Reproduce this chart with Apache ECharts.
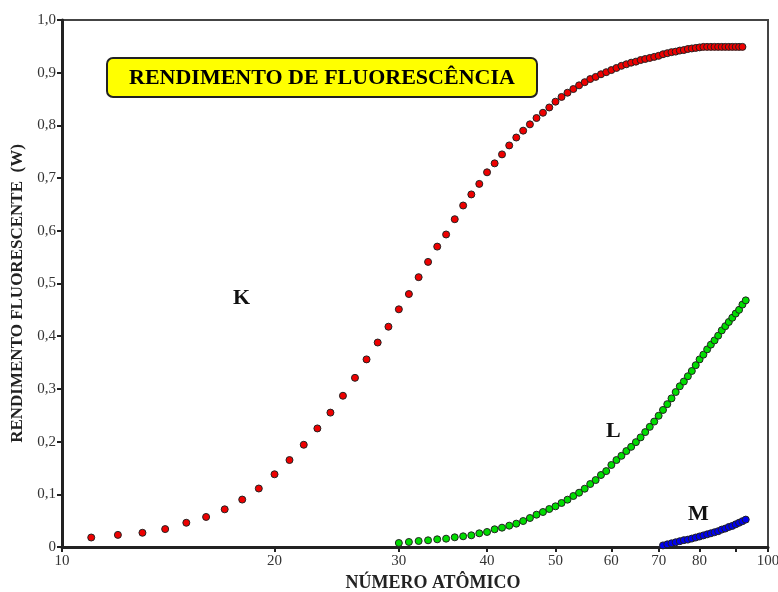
<!DOCTYPE html>
<html>
<head>
<meta charset="utf-8">
<script src="https://cdn.jsdelivr.net/npm/echarts@6/dist/echarts.min.js"></script>
<style>
html,body{margin:0;padding:0;background:#fff;}
#chart{width:778px;height:592px;}
</style>
</head>
<body>
<div id="chart"></div>
<script>
// Atomic numbers and fluorescence yields
var kZ = [11,12,13,14,15,16,17,18,19,20,21,22,23,24,25,26,27,28,29,30,31,32,33,34,35,36,37,38,39,40,41,42,43,44,45,46,47,48,49,50,51,52,53,54,55,56,57,58,59,60,61,62,63,64,65,66,67,68,69,70,71,72,73,74,75,76,77,78,79,80,81,82,83,84,85,86,87,88,89,90,91,92];
var kValues = [0.018,0.023,0.027,0.034,0.046,0.057,0.0715,0.090,0.111,0.138,0.165,0.194,0.225,0.255,0.287,0.321,0.356,0.388,0.418,0.451,0.480,0.512,0.541,0.570,0.593,0.622,0.648,0.669,0.689,0.711,0.728,0.745,0.762,0.777,0.790,0.802,0.814,0.824,0.834,0.845,0.854,0.862,0.869,0.876,0.882,0.888,0.892,0.897,0.901,0.905,0.909,0.913,0.916,0.919,0.921,0.924,0.926,0.928,0.930,0.932,0.935,0.937,0.939,0.940,0.942,0.943,0.945,0.946,0.947,0.948,0.949,0.949,0.949,0.949,0.949,0.949,0.949,0.949,0.949,0.949,0.949,0.949];

var lZ = [30,31,32,33,34,35,36,37,38,39,40,41,42,43,44,45,46,47,48,49,50,51,52,53,54,55,56,57,58,59,60,61,62,63,64,65,66,67,68,69,70,71,72,73,74,75,76,77,78,79,80,81,82,83,84,85,86,87,88,89,90,91,92,93];
var lValues = [0.0076,0.0095,0.0114,0.0127,0.0146,0.0158,0.0184,0.0203,0.0222,0.026,0.0285,0.0336,0.0367,0.0405,0.0443,0.0493,0.055,0.0613,0.0664,0.0721,0.0772,0.0835,0.0898,0.0968,0.103,0.1106,0.1195,0.127,0.1366,0.144,0.1556,0.165,0.173,0.182,0.190,0.199,0.208,0.218,0.228,0.238,0.249,0.260,0.271,0.282,0.294,0.305,0.314,0.324,0.334,0.345,0.356,0.365,0.375,0.384,0.392,0.401,0.411,0.419,0.427,0.435,0.443,0.450,0.460,0.468];

var mZ = [71,72,73,74,75,76,77,78,79,80,81,82,83,84,85,86,87,88,89,90,91,92,93];
var mValues = [0.003,0.005,0.007,0.009,0.011,0.013,0.014,0.016,0.018,0.020,0.022,0.024,0.026,0.028,0.030,0.033,0.035,0.038,0.040,0.043,0.046,0.049,0.052];

var xTicks = [10,20,30,40,50,60,70,80,90,100];
var xTickLabels = ['10','20','30','40','50','60','70','80','','100'];

function pairs(xs, ys){ return xs.map(function(x,i){ return [x, ys[i]]; }); }

var serif = 'Liberation Serif, "Times New Roman", serif';
var chart = echarts.init(document.getElementById('chart'), null, {renderer:'canvas'});
chart.setOption({
  animation:false,
  backgroundColor:'#ffffff',
  title:{
    text:'RENDIMENTO DE FLUORESCÊNCIA',
    left:107, top:58,
    backgroundColor:'#ffff00',
    borderColor:'#222',
    borderWidth:2,
    borderRadius:6,
    padding:[9,22,8,22],
    textStyle:{fontFamily:serif, fontWeight:'bold', fontSize:22, color:'#000'}
  },
  grid:{left:62, right:10, top:20, bottom:45, outerBoundsMode:'none', containLabel:false,
    show:true, borderColor:'#444', borderWidth:2, backgroundColor:'transparent'},
  xAxis:{
    type:'log', logBase:10, min:10, max:100,
    name:'NÚMERO ATÔMICO', nameLocation:'middle', nameGap:25,
    nameTextStyle:{fontFamily:serif, fontWeight:'bold', fontSize:18, color:'#222', padding:[0,0,0,36]},
    axisLine:{show:true, lineStyle:{color:'#222', width:3}},
    axisTick:{show:true, length:5, lineStyle:{color:'#222', width:2}, customValues:xTicks},
    axisLabel:{fontFamily:serif, fontSize:15, color:'#333', margin:7, customValues:xTicks,
      formatter:function(v){ var i = xTicks.indexOf(Math.round(v)); return i>=0 ? xTickLabels[i] : ''; }},
    splitLine:{show:false}, minorTick:{show:false}
  },
  yAxis:{
    type:'value', min:0, max:1, interval:0.1,
    name:'RENDIMENTO FLUORESCENTE  (W)', nameLocation:'middle', nameGap:34,
    nameTextStyle:{fontFamily:serif, fontWeight:'bold', fontSize:17, color:'#222', padding:[0,20,0,0]},
    axisLine:{show:true, lineStyle:{color:'#222', width:3}},
    axisTick:{show:true, length:5, lineStyle:{color:'#222', width:2}},
    axisLabel:{fontFamily:serif, fontSize:15, color:'#333', margin:6,
      formatter:function(v){ return v===0 ? '0' : v.toFixed(1).replace('.', ','); }},
    splitLine:{show:false}
  },
  graphic:[
    {type:'text', left:233, top:287, style:{text:'K', font:'bold 22px '+serif, fill:'#111'}},
    {type:'text', left:606, top:420, style:{text:'L', font:'bold 22px '+serif, fill:'#111'}},
    {type:'text', left:688, top:503, style:{text:'M', font:'bold 22px '+serif, fill:'#111'}}
  ],
  series:[
    {type:'scatter', name:'K', data:pairs(kZ,kValues), symbol:'circle', symbolSize:7,
      itemStyle:{color:'#ee0000', borderColor:'#222', borderWidth:1, opacity:1}},
    {type:'scatter', name:'L', data:pairs(lZ,lValues), symbol:'circle', symbolSize:7,
      itemStyle:{color:'#00dd00', borderColor:'#222', borderWidth:1, opacity:1}},
    {type:'scatter', name:'M', data:pairs(mZ,mValues), symbol:'circle', symbolSize:7,
      itemStyle:{color:'#0000ee', borderColor:'#222', borderWidth:1, opacity:1}}
  ]
});
</script>
</body>
</html>
